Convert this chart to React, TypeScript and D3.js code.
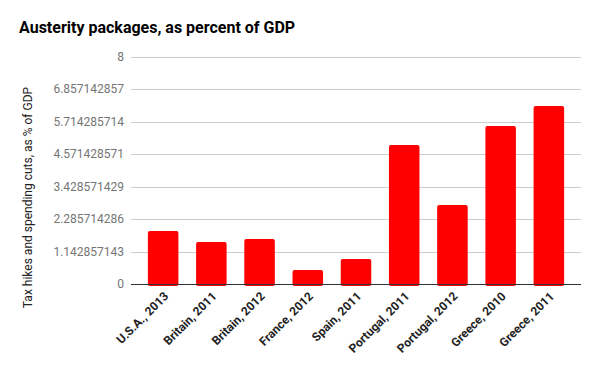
import React, { useEffect, useRef } from 'react'
import * as d3 from 'd3'

const categories = [
  'U.S.A., 2013', 'Britain, 2011', 'Britain, 2012', 'France, 2012', 'Spain, 2011',
  'Portugal, 2011', 'Portugal, 2012', 'Greece, 2010', 'Greece, 2011',
]
const values = [1.87, 1.48, 1.59, 0.49, 0.88, 4.9, 2.78, 5.57, 6.27]
const tickValues = [0, 1.142857143, 2.285714286, 3.428571429, 4.571428571, 5.714285714, 6.857142857, 8]
const tickLabels = ['0', '1.142857143', '2.285714286', '3.428571429', '4.571428571', '5.714285714', '6.857142857', '8']

const width = 600
const height = 371
const font = 'Roboto, sans-serif'

const App = () => {
  const chart = useRef<SVGSVGElement>(null)

  useEffect(() => {
    document.body.style.margin = '0'
    const svg = d3.select(chart.current)
    svg.selectAll('*').remove()

    const left = 131, right = 581, top = 57, bottom = 284

    const x = d3.scaleBand().domain(categories).range([left, right]).paddingInner(0.367).paddingOuter(0.35)
    const y = d3.scaleLinear().domain([0, 8]).range([bottom, top])

    svg.append('rect').attr('width', width).attr('height', height).attr('fill', '#fff')

    // title
    svg.append('text')
      .attr('x', 19).attr('y', 33)
      .attr('font-family', font).attr('font-weight', 'bold').attr('font-size', 16)
      .attr('fill', '#000')
      .text('Austerity packages, as percent of GDP')

    // gridlines + tick labels
    const grid = svg.append('g')
    grid.selectAll('line')
      .data(tickValues)
      .join('line')
      .attr('x1', left).attr('x2', right)
      .attr('y1', d => Math.round(y(d)) + 0.5).attr('y2', d => Math.round(y(d)) + 0.5)
      .attr('stroke', '#ccc').attr('stroke-width', 1)

    grid.selectAll('text')
      .data(tickValues)
      .join('text')
      .attr('x', left - 7)
      .attr('y', d => y(d) + 4)
      .attr('text-anchor', 'end')
      .attr('font-family', font).attr('font-size', 12)
      .attr('fill', '#757575')
      .text((d, i) => tickLabels[i])

    // y axis title
    svg.append('text')
      .attr('transform', `translate(32,${(top + bottom) / 2 + 27}) rotate(-90)`)
      .attr('text-anchor', 'middle')
      .attr('font-family', font).attr('font-size', 12)
      .attr('fill', '#222')
      .text('Tax hikes and spending cuts, as % of GDP')

    // bars
    svg.append('g')
      .selectAll('rect')
      .data(values)
      .join('rect')
      .attr('x', (d, i) => x(categories[i])!)
      .attr('width', x.bandwidth())
      .attr('y', d => y(d))
      .attr('height', d => bottom - y(d) + 2)
      .attr('rx', 2)
      .attr('fill', '#ff0000')

    // baseline
    svg.append('line')
      .attr('x1', left).attr('x2', right)
      .attr('y1', bottom + 0.5).attr('y2', bottom + 0.5)
      .attr('stroke', '#333').attr('stroke-width', 1)

    // category labels
    svg.append('g')
      .selectAll('text')
      .data(categories)
      .join('text')
      .attr('transform', d => `translate(${x(d)! + x.bandwidth() / 2 + 6},${bottom + 13}) rotate(-45)`)
      .attr('text-anchor', 'end')
      .attr('font-family', font).attr('font-weight', 'bold').attr('font-size', 12)
      .attr('fill', '#222')
      .text(d => d)
  })

  return (
    <div>
      <svg ref={chart} width={width} height={height} style={{ display: 'block' }}></svg>
    </div>
  )
}

export default App
